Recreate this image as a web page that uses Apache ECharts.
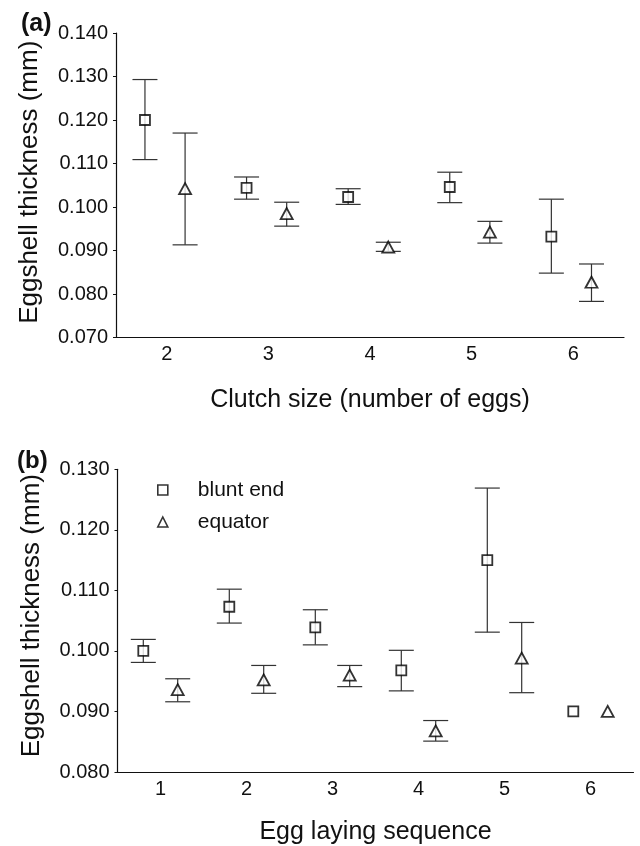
<!DOCTYPE html>
<html lang="en">
<head>
<meta charset="UTF-8">
<title>Eggshell thickness</title>
<script src="https://cdn.jsdelivr.net/npm/echarts@6/dist/echarts.min.js"></script>
<style>
  html, body { margin: 0; padding: 0; background: #fff; }
  #chart { width: 640px; height: 846px; }
</style>
</head>
<body>
<div id="chart"></div>
<script>
// panel (a): clutch size
var clutchSizes = ['2', '3', '4', '5', '6'];
var bluntA     = [0.1200, 0.1044, 0.1023, 0.1046, 0.0932];
var bluntALow  = [0.1109, 0.1018, 0.1006, 0.1010, 0.0848];
var bluntAHigh = [0.1293, 0.1069, 0.1042, 0.1080, 0.1018];
var equatorA     = [0.1042, 0.0985, 0.0908, 0.0942, 0.0827];
var equatorALow  = [0.0913, 0.0956, 0.0898, 0.0917, 0.0783];
var equatorAHigh = [0.1170, 0.1011, 0.0919, 0.0967, 0.0869];

// panel (b): laying sequence
var layOrder = ['1', '2', '3', '4', '5', '6'];
var bluntB     = [0.1000, 0.1073, 0.1039, 0.0968, 0.1150, 0.0900];
var bluntBLow  = [0.0981, 0.1046, 0.1010, 0.0934, 0.1031, null];
var bluntBHigh = [0.1019, 0.1102, 0.1068, 0.1001, 0.1269, null];
var equatorB     = [0.0936, 0.0952, 0.0960, 0.0868, 0.0988, 0.0900];
var equatorBLow  = [0.0916, 0.0930, 0.0941, 0.0851, 0.0931, null];
var equatorBHigh = [0.0954, 0.0976, 0.0976, 0.0885, 0.1047, null];

var FONT = 'Liberation Sans, Arial, sans-serif';
var INK = '#111';

// x positions: category index + offset (value axis hidden underneath)
function pts(vals, off) {
  return vals.map(function (v, i) { return [i + off, v]; });
}
function bars(low, high, off) {
  var out = [];
  low.forEach(function (l, i) {
    if (l != null) out.push([i + off, l, high[i]]);
  });
  return out;
}

function errRender(params, api) {
  var x = api.value(0);
  var lo = api.coord([x, api.value(1)]);
  var hi = api.coord([x, api.value(2)]);
  var w = 12.5;
  var st = { stroke: '#333', lineWidth: 1.2 };
  return {
    type: 'group',
    children: [
      { type: 'line', shape: { x1: lo[0], y1: lo[1], x2: hi[0], y2: hi[1] }, style: st },
      { type: 'line', shape: { x1: lo[0] - w, y1: lo[1], x2: lo[0] + w, y2: lo[1] }, style: st },
      { type: 'line', shape: { x1: hi[0] - w, y1: hi[1], x2: hi[0] + w, y2: hi[1] }, style: st }
    ]
  };
}

function catAxis(gi, cats) {
  return {
    type: 'category', gridIndex: gi, data: cats,
    boundaryGap: true,
    axisLine: { onZero: false, lineStyle: { color: INK, width: 1.2 } },
    axisTick: { inside: true, length: 4, lineStyle: { color: INK } },
    axisLabel: { color: INK, fontSize: 20, fontFamily: FONT, margin: 7 },
    splitLine: { show: false }
  };
}
function hiddenX(gi, n) {
  return { type: 'value', gridIndex: gi, min: -0.5, max: n - 0.5, show: false };
}
// shiftUp: nudges the rotated title upward along the axis
function valAxis(gi, min, max, shiftUp) {
  return {
    type: 'value', gridIndex: gi, min: min, max: max, interval: 0.01,
    name: 'Eggshell thickness (mm)', nameLocation: 'middle', nameGap: 73,
    nameTextStyle: { color: INK, fontSize: 26, fontFamily: FONT,
      padding: [0, 0, 0, shiftUp * 2] },
    axisLine: { show: true, onZero: false, lineStyle: { color: INK, width: 1.2 } },
    axisTick: { show: true, length: 3, lineStyle: { color: INK } },
    axisLabel: { color: INK, fontSize: 20, fontFamily: FONT, margin: 8,
      formatter: function (v) { return v.toFixed(3); } },
    splitLine: { show: false }
  };
}

var sq = { symbol: 'rect', symbolSize: 10,
  itemStyle: { color: '#fff', borderColor: '#000', borderWidth: 1.8 } };
var tri = { symbol: 'triangle', symbolSize: [12, 11],
  itemStyle: { color: '#fff', borderColor: '#000', borderWidth: 1.8 } };

function scatter(name, xi, yi, data, sym) {
  return Object.assign({ type: 'scatter', name: name, xAxisIndex: xi, yAxisIndex: yi,
    data: data, z: 5, silent: true, animation: false }, sym);
}
function errs(xi, yi, data) {
  return { type: 'custom', xAxisIndex: xi, yAxisIndex: yi, data: data,
    renderItem: errRender, z: 2, silent: true, animation: false };
}

var option = {
  backgroundColor: '#fff',
  animation: false,
  grid: [
    { left: 116, right: 16, top: 33, bottom: 508.5 },
    { left: 117.5, right: 6.5, top: 469.3, bottom: 65.7 }
  ],
  xAxis: [
    Object.assign(catAxis(0, clutchSizes), {
      name: 'Clutch size (number of eggs)', nameLocation: 'middle', nameGap: 50,
      nameTextStyle: { color: INK, fontSize: 25, fontFamily: FONT } }),
    Object.assign(catAxis(1, layOrder), {
      name: 'Egg laying sequence', nameLocation: 'middle', nameGap: 48,
      nameTextStyle: { color: INK, fontSize: 25, fontFamily: FONT } }),
    hiddenX(0, clutchSizes.length),
    hiddenX(1, layOrder.length)
  ],
  yAxis: [
    valAxis(0, 0.07, 0.14, 3),
    valAxis(1, 0.08, 0.13, 5)
  ],
  legend: {
    data: [{ name: 'blunt end', icon: 'rect' }, { name: 'equator', icon: 'triangle' }],
    orient: 'vertical', left: 152, top: 474,
    itemWidth: 10, itemHeight: 10, itemGap: 10,
    itemStyle: { color: '#fff', borderColor: '#000', borderWidth: 1.6 },
    textStyle: { color: INK, fontSize: 21, fontFamily: FONT, lineHeight: 22,
      padding: [0, 0, 0, 25] },
    selectedMode: false
  },
  graphic: [
    { type: 'text', left: 21, top: 12,
      style: { text: '(a)', font: 'bold 25px ' + FONT, fill: INK } },
    { type: 'text', left: 17, top: 449,
      style: { text: '(b)', font: 'bold 24px ' + FONT, fill: INK } }
  ],
  series: [
    errs(2, 0, bars(bluntALow, bluntAHigh, -0.215)),
    errs(2, 0, bars(equatorALow, equatorAHigh, 0.18)),
    scatter('blunt end', 2, 0, pts(bluntA, -0.215), sq),
    scatter('equator', 2, 0, pts(equatorA, 0.18), tri),
    errs(3, 1, bars(bluntBLow, bluntBHigh, -0.2)),
    errs(3, 1, bars(equatorBLow, equatorBHigh, 0.2)),
    scatter('blunt end', 3, 1, pts(bluntB, -0.2), sq),
    scatter('equator', 3, 1, pts(equatorB, 0.2), tri)
  ]
};

var myChart = echarts.init(document.getElementById('chart'));
myChart.setOption(option);
</script>
</body>
</html>
